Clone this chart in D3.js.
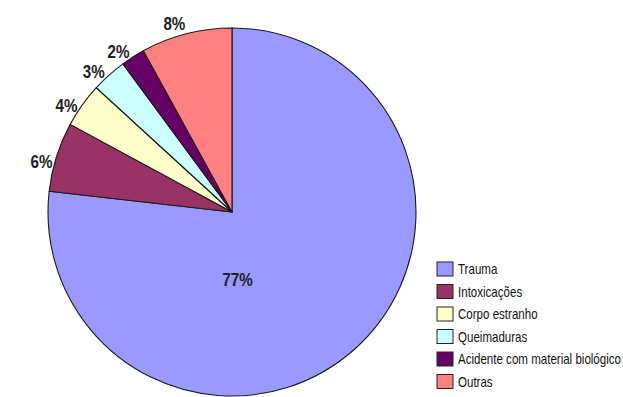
<!DOCTYPE html>
<html>
<head>
<meta charset="utf-8">
<script src="https://cdn.jsdelivr.net/npm/d3@7/dist/d3.min.js"></script>
<style>
  html, body { margin: 0; padding: 0; background: #fff; }
  svg { display: block; }
  .lbl { font-family: "Liberation Sans", Arial, sans-serif; font-weight: bold; fill: #222; }
  .leg { font-family: "Liberation Sans", Arial, sans-serif; fill: #111; }
</style>
</head>
<body>
<script>
const categories = ["Trauma", "Intoxicações", "Corpo estranho", "Queimaduras", "Acidente com material biológico", "Outras"];
const values = [76.8, 6.1, 3.9, 3.1, 2.1, 8.0];
const colors = ["#9999FF", "#993366", "#FFFFCC", "#CCFFFF", "#660066", "#FF8080"];

const W = 623, H = 397;
const cx = 232, cy = 212, R = 184;

const svg = d3.select("body").append("svg").attr("width", W).attr("height", H);

const data = categories.map((c, i) => ({ name: c, value: values[i], color: colors[i] }));
const pie = d3.pie().value(d => d.value).sort(null).startAngle(0).endAngle(2 * Math.PI);
const arcs = pie(data);
const arc = d3.arc().innerRadius(0).outerRadius(R);

const g = svg.append("g").attr("transform", `translate(${cx},${cy})`);
g.selectAll("path.slice").data(arcs).enter().append("path")
  .attr("class", "slice")
  .attr("d", arc)
  .attr("fill", d => d.data.color)
  .attr("stroke", "#1a1a1a")
  .attr("stroke-width", 1.1)
  .attr("stroke-linejoin", "round");

// condensed look: horizontal compression of the text
const lblScale = 0.8;
const shift = -2.6 * Math.PI / 180;
const outerR = R + 13;
arcs.forEach((d, i) => {
  const txt = Math.round(d.data.value) + "%";
  let x, y;
  if (i === 0) {
    x = R * 0.03; y = R * 0.365;
  } else {
    const a = (d.startAngle + d.endAngle) / 2 + shift;
    x = outerR * Math.sin(a);
    y = -outerR * Math.cos(a);
  }
  g.append("g").attr("transform", `translate(${x},${y}) scale(${lblScale},1)`)
    .append("text").attr("class", "lbl")
    .attr("text-anchor", "middle")
    .attr("dy", "0.36em")
    .attr("font-size", 19)
    .text(txt);
});

// legend
const legX = 437, legY0 = 262, legStep = 22.5, boxW = 16, boxH = 14;
const legTextX = legX + boxW + 5;
const legMaxW = W - legTextX - 2;
const leg = svg.append("g");
const items = [];
data.forEach((d, i) => {
  const y = legY0 + i * legStep;
  leg.append("rect").attr("x", legX).attr("y", y)
    .attr("width", boxW).attr("height", boxH)
    .attr("fill", d.color).attr("stroke", "#222").attr("stroke-width", 1);
  const t = leg.append("g").attr("transform", `translate(${legTextX},${y + boxH / 2})`)
    .append("text").attr("class", "leg")
    .attr("dy", "0.36em")
    .attr("font-size", 14)
    .text(d.name);
  items.push(t);
});
const maxLen = d3.max(items, t => t.node().getComputedTextLength());
const legScale = Math.min(1, legMaxW / maxLen);
items.forEach(t => t.attr("transform", `scale(${legScale},1)`));
</script>
</body>
</html>
